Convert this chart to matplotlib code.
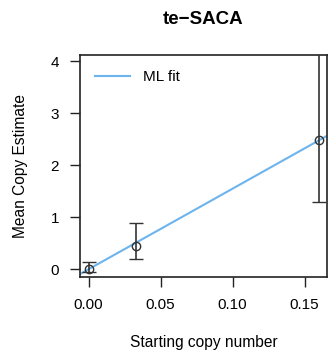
import matplotlib
matplotlib.use("Agg")
import matplotlib.pyplot as plt
import numpy as np

plt.rcParams['font.family'] = ['Liberation Sans', 'DejaVu Sans']

x_vals = [0.0, 0.0326, 0.160]
y_means = [0.0, 0.45, 2.48]
err_low = [-0.05, 0.19, 1.29]
err_high = [0.13, 0.89, 4.5]
fit_slope = 15.5
x_ticks = [0.00, 0.05, 0.10, 0.15]
y_ticks = [0, 1, 2, 3, 4]

fig = plt.figure(figsize=(3.29, 3.58), dpi=100)
ax = fig.add_axes([80/329, 1-277/358, (327-80)/329, (277-55)/358])

xs = np.array([-0.006, 0.165])
ax.plot(xs, fit_slope*xs, color='#6cb4ee', lw=1.5, label='ML fit', zorder=2)

yerr = [np.array(y_means)-np.array(err_low), np.array(err_high)-np.array(y_means)]
ax.errorbar(x_vals, y_means, yerr=yerr, fmt='o', mfc='none', mec='#333333', ms=6,
            ecolor='#333333', elinewidth=1.2, capsize=5, capthick=1.2, mew=1, zorder=3)

ax.set_xlim(-0.006, 0.1655)
ax.set_ylim(-0.15, 4.12)
ax.set_xticks(x_ticks)
ax.set_xticklabels(['0.00', '0.05', '0.10', '0.15'])
ax.set_yticks(y_ticks)
ax.tick_params(direction='out', length=7, width=1, labelsize=11, pad=8, color='#222222')
for s in ax.spines.values():
    s.set_linewidth(1.2)
    s.set_color('#222222')

ax.set_title('te\u2212SACA', fontsize=13.5, fontweight='bold', pad=22)
ax.set_xlabel('Starting copy number', fontsize=11.2, labelpad=17)
ax.set_ylabel('Mean Copy Estimate', fontsize=11.2, labelpad=16)
leg = ax.legend(loc='upper left', frameon=False, fontsize=11, handlelength=2.3,
                bbox_to_anchor=(0.0, 1.0), borderaxespad=0.6)

fig.savefig('out.png', dpi=100)
